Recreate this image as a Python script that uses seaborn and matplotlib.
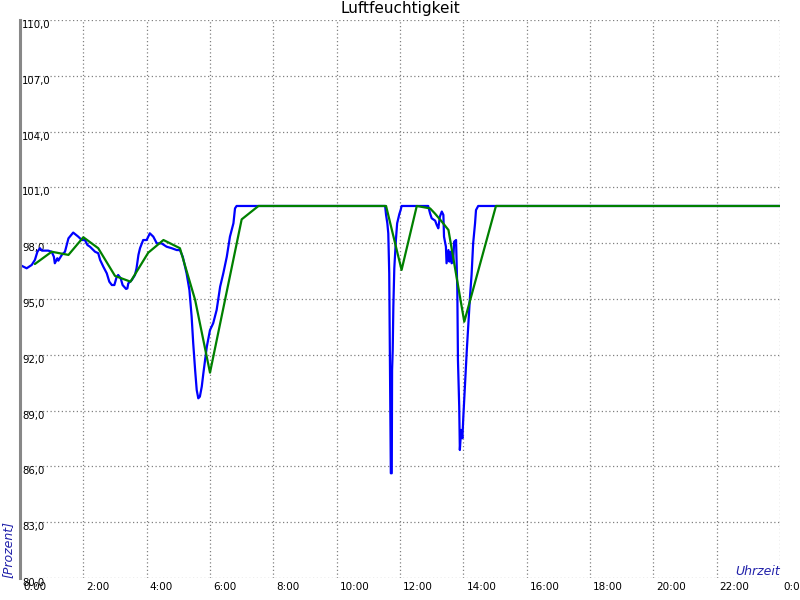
import matplotlib
matplotlib.use('Agg')
import matplotlib.pyplot as plt
import matplotlib.transforms as mtransforms
import seaborn as sns
import pandas as pd

# Messwerte (Stunden seit Mitternacht, relative Feuchte in %)
blue_hours = [0.0, 0.21, 0.37, 0.47, 0.55, 0.63, 0.69, 0.89, 1.0, 1.07, 1.1, 1.18,
              1.21, 1.32, 1.42, 1.53, 1.68, 1.84, 1.95, 2.05, 2.13, 2.21, 2.37, 2.47,
              2.53, 2.63, 2.74, 2.82, 2.9, 2.98, 3.05, 3.1, 3.18, 3.24, 3.35, 3.39,
              3.42, 3.53, 3.63, 3.68, 3.74, 3.79, 3.89, 4.0, 4.1, 4.21, 4.32, 4.47,
              4.63, 4.79, 4.95, 5.05, 5.14, 5.26, 5.35, 5.42, 5.47, 5.53, 5.58, 5.63,
              5.68, 5.74, 5.79, 5.9, 6.0, 6.1, 6.21, 6.32, 6.42, 6.53, 6.63, 6.74,
              6.79, 6.84,
              11.53, 11.56, 11.6, 11.63, 11.66, 11.68, 11.71, 11.74, 11.75, 11.77,
              11.79, 11.82, 11.87, 11.91, 11.98, 12.02, 12.05,
              12.89, 12.95, 13.0, 13.11, 13.16, 13.21, 13.26, 13.32, 13.37, 13.39,
              13.45, 13.47, 13.53, 13.56, 13.6, 13.63, 13.68, 13.71, 13.77, 13.79,
              13.81, 13.83, 13.87, 13.89, 13.93, 13.97, 14.0, 14.05, 14.11, 14.16,
              14.21, 14.26, 14.31, 14.37, 14.4, 14.47, 24.0]
blue_values = [96.83, 96.65, 96.83, 97.1, 97.54, 97.73, 97.6, 97.6, 97.54, 97.27, 96.92, 97.19,
               97.06, 97.37, 97.54, 98.26, 98.57, 98.35, 98.17, 98.17, 97.9, 97.81, 97.54, 97.46,
               97.1, 96.74, 96.38, 95.93, 95.75, 95.75, 96.17, 96.29, 96.11, 95.75, 95.54, 95.57,
               95.84, 96.02, 96.29, 96.65, 97.37, 97.73, 98.17, 98.17, 98.53, 98.35, 97.99, 97.99,
               97.81, 97.73, 97.63, 97.63, 97.27, 96.38, 95.48, 94.05, 92.62, 91.18, 90.11, 89.66,
               89.75, 90.29, 91.0, 92.44, 93.33, 93.69, 94.41, 95.66, 96.38, 97.27, 98.35, 99.07,
               99.87, 100.0,
               100.0, 99.52, 99.07, 98.53, 96.38, 92.26, 85.63, 85.63, 91.18, 92.26,
               94.59, 96.65, 98.17, 99.07, 99.57, 99.78, 100.0,
               100.0, 99.6, 99.34, 99.21, 98.98, 98.8, 99.43, 99.7, 99.52, 98.35,
               97.81, 96.92, 97.63, 97.01, 97.54, 96.92, 97.01, 98.08, 98.17, 96.74,
               95.48, 91.72, 89.21, 86.88, 87.96, 87.51, 88.67, 90.29, 92.26, 93.69,
               95.12, 96.29, 97.99, 99.07, 99.78, 100.0, 100.0]

# Halbstuendliche Mittelwerte
green_hours = [0.47, 1.0, 1.53, 2.0, 2.47, 3.0, 3.49, 4.05, 4.53, 5.05, 5.53, 6.0,
               7.0, 7.53, 11.56, 12.05, 12.53, 12.95, 13.1, 13.3, 13.53, 14.03, 15.03, 24.0]
green_values = [96.88, 97.54, 97.37, 98.32, 97.73, 96.24, 95.93, 97.49, 98.17, 97.73, 94.95, 91.04,
                99.28, 100.0, 100.0, 96.56, 100.0, 99.87, 99.6, 99.2, 98.71, 93.78, 100.0, 100.0]

y_ticks = [80, 83, 86, 89, 92, 95, 98, 101, 104, 107, 110]
y_labels = ['80,0', '83,0', '86,0', '89,0', '92,0', '95,0', '98,0', '101,0', '104,0', '107,0', '110,0']
x_ticks = [0, 2, 4, 6, 8, 10, 12, 14, 16, 18, 20, 22, 24]
x_labels = ['0:00', '2:00', '4:00', '6:00', '8:00', '10:00', '12:00', '14:00', '16:00',
            '18:00', '20:00', '22:00', '0:00']

sns.set_style("white")
plt.rcParams['font.family'] = ['DejaVu Sans']

df_blue = pd.DataFrame({'stunde': blue_hours, 'feuchte': blue_values})
df_green = pd.DataFrame({'stunde': green_hours, 'feuchte': green_values})

fig = plt.figure(figsize=(8, 6), dpi=100)
ax = fig.add_axes([0.025, 0.0367, 0.95, 0.93])

sns.lineplot(data=df_blue, x='stunde', y='feuchte', color='#0000ff', linewidth=1.6,
             estimator=None, ax=ax)
sns.lineplot(data=df_green, x='stunde', y='feuchte', color='#008000', linewidth=1.6,
             estimator=None, ax=ax)

ax.set_xlim(0, 24)
ax.set_ylim(80, 110)
ax.set_xticks(x_ticks)
ax.set_xticklabels(x_labels)
ax.set_yticks(y_ticks)
ax.set_yticklabels(y_labels)
ax.set_xlabel('')
ax.set_ylabel('')

ax.grid(True, color='#808080', linestyle=(0, (1, 2)), linewidth=0.9)
for side in ['top', 'right', 'bottom']:
    ax.spines[side].set_visible(False)
ax.spines['left'].set_color('#888888')
ax.spines['left'].set_linewidth(2.2)

ax.tick_params(axis='y', length=0, pad=-1.5, labelsize=7.3, labelcolor='black')
for lbl in ax.get_yticklabels():
    lbl.set_horizontalalignment('left')
    lbl.set_verticalalignment('top')
ax.tick_params(axis='x', length=0, pad=3, labelsize=7.5, labelcolor='black')
offset = mtransforms.ScaledTranslation(3 / 100, 0, fig.dpi_scale_trans)
for lbl in ax.get_xticklabels():
    lbl.set_horizontalalignment('left')
    lbl.set_transform(lbl.get_transform() + offset)

fig.text(0.5, 0.986, 'Luftfeuchtigkeit', ha='center', va='center', fontsize=11, color='black')
ax.text(-0.016, 0.0, '[Prozent]', transform=ax.transAxes, rotation=90, ha='center',
        va='bottom', color='#2222aa', fontsize=9, style='italic')
ax.text(1.0, 0.0, 'Uhrzeit', transform=ax.transAxes, ha='right', va='bottom',
        color='#2222aa', fontsize=9, style='italic')

plt.savefig('out.png', dpi=100)
plt.close()
